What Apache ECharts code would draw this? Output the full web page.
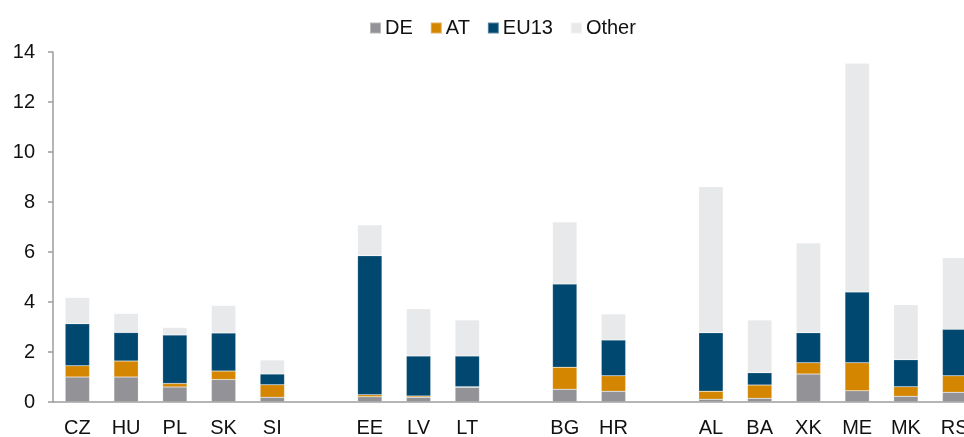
<!DOCTYPE html>
<html lang="en">
<head>
	<meta charset="UTF-8">
	<title>Stacked bars</title>
	<script src="https://cdn.jsdelivr.net/npm/echarts@6/dist/echarts.min.js"></script>
</head>
<style>
	html, body { margin: 0; padding: 0; background: #fff; }
	#main { width: 964px; height: 437px; }
</style>
<body>
	<div id="main"></div>
	<script>
	// countries, empty strings are the gaps between groups
	var categories = ['CZ', 'HU', 'PL', 'SK', 'SI', '', 'EE', 'LV', 'LT', '', 'BG', 'HR', '', 'AL', 'BA', 'XK', 'ME', 'MK', 'RS'];
	var seriesNames = ['DE', 'AT', 'EU13', 'Other'];
	var deValues    = [1.00, 1.00, 0.60, 0.90, 0.19, null, 0.21, 0.19, 0.59, null, 0.51, 0.43, null, 0.11, 0.15, 1.12, 0.45, 0.23, 0.39];
	var atValues    = [0.45, 0.64, 0.14, 0.34, 0.50, null, 0.08, 0.05, 0.02, null, 0.88, 0.62, null, 0.32, 0.53, 0.45, 1.12, 0.38, 0.66];
	var eu13Values  = [1.68, 1.14, 1.94, 1.52, 0.43, null, 5.56, 1.60, 1.23, null, 3.33, 1.43, null, 2.34, 0.49, 1.20, 2.83, 1.08, 1.86];
	var otherValues = [1.05, 0.76, 0.30, 1.10, 0.56, null, 1.23, 1.89, 1.44, null, 2.48, 1.04, null, 5.84, 2.11, 3.59, 9.15, 2.20, 2.86];
	var colors = ['#939397', '#d48600', '#004870', '#e8e9eb'];

	var allValues = [deValues, atValues, eu13Values, otherValues];
	var font = 'Liberation Sans, Arial, sans-serif';

	var myChart = echarts.init(document.getElementById('main'));
	var option = {
		animation: false,
		color: colors,
		legend: {
			data: seriesNames,
			left: 364,
			top: 13,
			itemWidth: 11,
			itemHeight: 11,
			itemGap: 17,
			icon: 'rect',
			textStyle: { fontFamily: font, fontSize: 20, color: '#111', padding: [0, 0, 0, -1] }
		},
		// the plot runs past the right edge, RS is cut off in the original
		grid: { left: 53, width: 926, top: 52, bottom: 35, outerBoundsMode: 'none', containLabel: false },
		xAxis: {
			type: 'category',
			data: categories,
			axisLine: { lineStyle: { color: '#9d9d9f', width: 1.5 } },
			axisTick: { show: false },
			axisLabel: { fontFamily: font, fontSize: 20, color: '#111', margin: 16, interval: 0 }
		},
		yAxis: {
			type: 'value',
			min: 0,
			max: 14,
			interval: 2,
			splitLine: { show: false },
			axisLine: { show: true, lineStyle: { color: '#9d9d9f', width: 1.5 } },
			axisTick: { show: true, length: 5, lineStyle: { color: '#9d9d9f', width: 1.5 } },
			axisLabel: { fontFamily: font, fontSize: 20, color: '#111', margin: 18 }
		},
		series: seriesNames.map(function (name, i) {
			return {
				name: name,
				type: 'bar',
				stack: 'total',
				barWidth: '50%',
				data: allValues[i],
				itemStyle: { color: colors[i], borderColor: 'rgba(255,255,255,0.35)', borderWidth: 0.5 }
			};
		})
	};
	myChart.setOption(option);
	</script>
</body>
</html>
